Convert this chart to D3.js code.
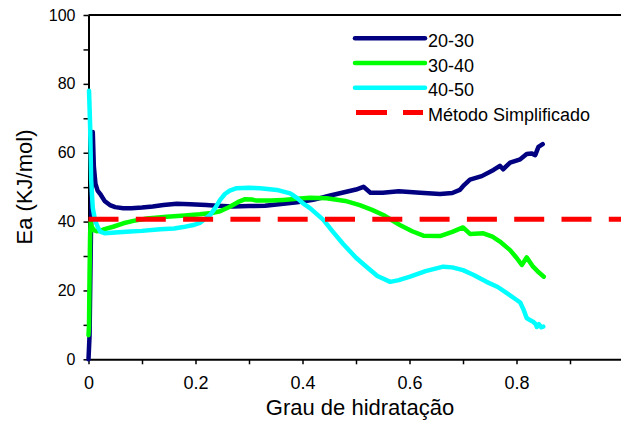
<!DOCTYPE html>
<html>
<head>
<meta charset="utf-8">
<script src="https://cdn.jsdelivr.net/npm/d3@7"></script>
<style>
  html, body { margin: 0; padding: 0; background: #fff; }
  svg { display: block; font-family: "Liberation Sans", Arial, sans-serif; }
</style>
</head>
<body>
<svg id="chart" width="621" height="421"></svg>
<script>
// Activation energy vs. degree of hydration, per temperature interval
const seriesNames = ["20-30", "30-40", "40-50"];
const seriesColors = ["#000080", "#00ff00", "#00ffff"];

const hyd2030 = [0, 0.002, 0.004, 0.006, 0.008, 0.010, 0.013, 0.017, 0.022, 0.03, 0.04, 0.05, 0.065, 0.08, 0.1, 0.12, 0.14, 0.165, 0.19, 0.22, 0.24, 0.27, 0.3, 0.33, 0.36, 0.39, 0.42, 0.45, 0.48, 0.5, 0.514, 0.527, 0.55, 0.58, 0.62, 0.657, 0.68, 0.694, 0.702, 0.713, 0.735, 0.757, 0.769, 0.775, 0.788, 0.807, 0.819, 0.828, 0.835, 0.841, 0.849];
const ea2030  = [0, 7, 30, 52, 66, 56, 51, 49, 48, 46, 44.8, 44.2, 43.9, 43.9, 44.1, 44.4, 44.8, 45.2, 45.0, 44.8, 44.6, 44.4, 44.5, 44.6, 45.1, 45.6, 46.3, 47.5, 48.6, 49.3, 50.1, 48.4, 48.4, 48.8, 48.4, 48.0, 48.3, 49.2, 50.6, 52.2, 53.2, 55.0, 56.2, 55.2, 57.1, 58.1, 59.6, 59.8, 59.3, 61.7, 62.5];

const hyd3040 = [0, 0.001, 0.002, 0.003, 0.004, 0.006, 0.01, 0.015, 0.022, 0.03, 0.046, 0.065, 0.084, 0.109, 0.146, 0.18, 0.208, 0.23, 0.246, 0.264, 0.28, 0.293, 0.305, 0.314, 0.34, 0.364, 0.39, 0.414, 0.445, 0.48, 0.507, 0.53, 0.551, 0.582, 0.605, 0.626, 0.657, 0.68, 0.700, 0.713, 0.738, 0.755, 0.769, 0.788, 0.80, 0.810, 0.819, 0.831, 0.842, 0.851];
const ea3040  = [7, 10, 25, 36, 40, 38.5, 37.5, 37.2, 37.3, 37.8, 38.5, 39.5, 40.2, 40.9, 41.4, 41.8, 42.1, 42.5, 43.0, 44.3, 45.7, 46.5, 46.4, 46.1, 46.1, 46.3, 46.6, 46.9, 46.8, 46.0, 44.8, 43.4, 41.9, 39.0, 37.2, 35.9, 35.8, 37.0, 38.3, 36.4, 36.6, 35.6, 34.2, 31.7, 29.5, 27.4, 29.6, 26.9, 25.2, 24.0];

const hyd4050 = [0.001, 0.003, 0.005, 0.008, 0.012, 0.017, 0.022, 0.03, 0.05, 0.078, 0.1, 0.134, 0.16, 0.177, 0.196, 0.208, 0.218, 0.227, 0.237, 0.246, 0.255, 0.264, 0.277, 0.3, 0.321, 0.352, 0.377, 0.39, 0.401, 0.414, 0.439, 0.457, 0.476, 0.50, 0.520, 0.54, 0.564, 0.58, 0.601, 0.63, 0.663, 0.68, 0.70, 0.72, 0.744, 0.765, 0.782, 0.795, 0.807, 0.813, 0.819, 0.825, 0.831, 0.836, 0.838, 0.842, 0.846, 0.850];
const ea4050  = [78, 68, 52, 44, 40.5, 38.5, 37.1, 36.6, 36.8, 37.1, 37.3, 37.8, 38.0, 38.4, 39.0, 39.6, 40.8, 41.9, 44.0, 46.3, 48.0, 49.0, 49.7, 49.8, 49.7, 49.2, 48.2, 46.8, 45.3, 43.9, 40.5, 37.0, 33.5, 29.5, 26.8, 24.2, 22.5, 23.0, 24.0, 25.6, 26.9, 26.7, 25.9, 24.5, 22.5, 21.0, 19.2, 17.8, 16.5, 14.5, 12.0, 11.4, 10.9, 10.2, 9.4, 10.2, 9.3, 9.5];

// Simplified-method reference value
const simplifiedName = "Método Simplificado";
const simplifiedEa = 40.7;

const xTicks = [0, 0.1, 0.2, 0.3, 0.4, 0.5, 0.6, 0.7, 0.8, 0.9];
const yTicks = [0, 10, 20, 30, 40, 50, 60, 70, 80, 90, 100];
const xTitle = "Grau de hidratação";
const yTitle = "Ea (KJ/mol)";

const svg = d3.select("#chart");
const W = 621, H = 421;

const x = d3.scaleLinear().domain([0, 1]).range([88.5, 623.5]);
const y = d3.scaleLinear().domain([0, 100]).range([359.3, 15]);

// Axes
const yAxis = d3.axisLeft(y).tickValues(yTicks).tickSize(5).tickSizeOuter(0).tickPadding(8)
  .tickFormat(d => d % 20 === 0 ? String(d) : "");
const xAxis = d3.axisBottom(x).tickValues(xTicks).tickSize(5).tickSizeOuter(0).tickPadding(12)
  .tickFormat(d => d % 0.2 < 1e-9 || Math.abs(d % 0.2 - 0.2) < 1e-9 ? String(+d.toFixed(1)) : "");

const gx = svg.append("g").attr("transform", `translate(0,${y(0)})`).call(xAxis);
const gy = svg.append("g").attr("transform", `translate(${x(0)},0)`).call(yAxis);
[gx, gy].forEach(g => {
  g.select(".domain").attr("stroke", "#000").attr("stroke-width", 2);
  g.selectAll(".tick line").attr("stroke", "#000").attr("stroke-width", 1.5);
  g.selectAll(".tick text").attr("fill", "#000").attr("font-family", "Liberation Sans, Arial, sans-serif");
});
gx.selectAll(".tick text").attr("font-size", 18);
gy.selectAll(".tick text").attr("font-size", 16);

// Top frame line
svg.append("line")
  .attr("x1", x(0)).attr("x2", W)
  .attr("y1", y(100)).attr("y2", y(100))
  .attr("stroke", "#000").attr("stroke-width", 2);

// Series curves
const line = d3.line().x(d => x(d[0])).y(d => y(d[1]));
const series = [
  d3.zip(hyd2030, ea2030),
  d3.zip(hyd3040, ea3040),
  d3.zip(hyd4050, ea4050)
];
series.forEach((pts, i) => {
  svg.append("path")
    .datum(pts)
    .attr("d", line)
    .attr("fill", "none")
    .attr("stroke", seriesColors[i])
    .attr("stroke-width", 4.5)
    .attr("stroke-linejoin", "round")
    .attr("stroke-linecap", "round");
});

// Simplified method level
svg.append("line")
  .attr("x1", x(0)).attr("x2", W)
  .attr("y1", y(simplifiedEa)).attr("y2", y(simplifiedEa))
  .attr("stroke", "#ff0000").attr("stroke-width", 5)
  .attr("stroke-dasharray", "30,17.3");

// Legend
const legend = svg.append("g");
const legendRows = seriesNames.map((n, i) => ({ name: n, color: seriesColors[i], dash: null }))
  .concat([{ name: simplifiedName, color: "#ff0000", dash: "31,16" }]);
legendRows.forEach((r, i) => {
  const ly = 38.3 + i * 24.7;
  legend.append("line")
    .attr("x1", r.dash ? 356 : 355).attr("x2", r.dash ? 423 : 425)
    .attr("y1", ly).attr("y2", ly)
    .attr("stroke", r.color).attr("stroke-width", r.dash ? 5 : 4.5)
    .attr("stroke-linecap", r.dash ? "butt" : "round")
    .attr("stroke-dasharray", r.dash);
  legend.append("text")
    .attr("x", 428).attr("y", ly + 8.5)
    .attr("font-size", 18).attr("fill", "#000")
    .text(r.name);
});

// Axis titles
svg.append("text")
  .attr("x", 360).attr("y", 415)
  .attr("text-anchor", "middle").attr("font-size", 22).attr("fill", "#000")
  .text(xTitle);
svg.append("text")
  .attr("transform", `translate(32,187) rotate(-90)`)
  .attr("text-anchor", "middle").attr("font-size", 22).attr("fill", "#000")
  .text(yTitle);
</script>
</body>
</html>
